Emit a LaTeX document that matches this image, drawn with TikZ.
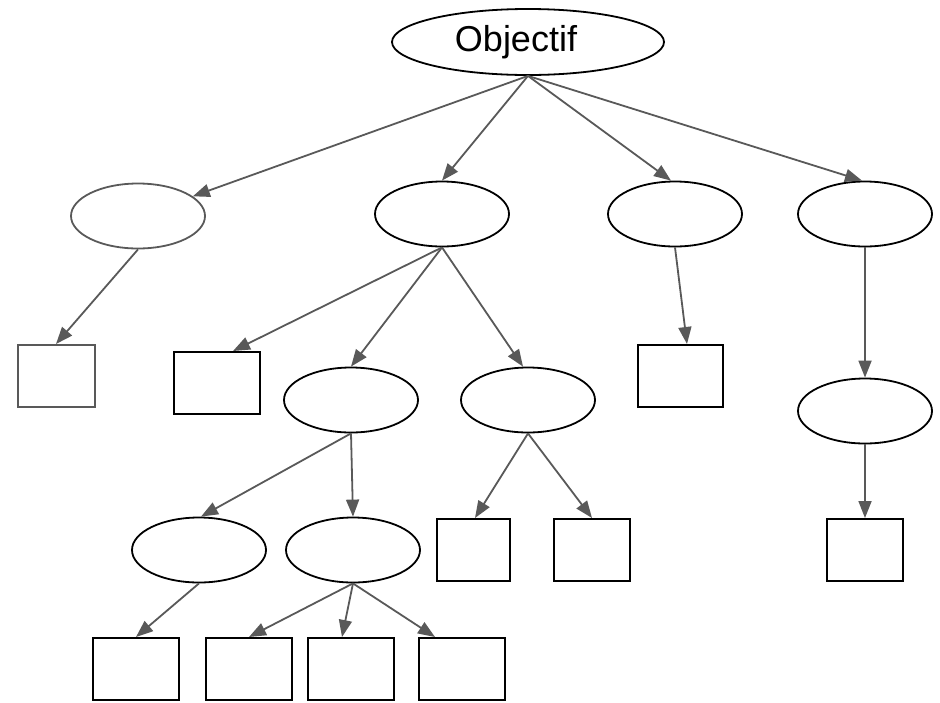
\documentclass[tikz,border=0pt]{standalone}
\usepackage{fontspec}
\setmainfont{Liberation Sans}
\usetikzlibrary{shapes.geometric,arrows.meta}
\definecolor{conn}{HTML}{595959}
\tikzset{
  ell/.style={draw=black, line width=1.8pt, ellipse, inner sep=0pt, minimum width=134pt, minimum height=65pt},
  gell/.style={ell, draw=conn},
  box/.style={draw=black, line width=2pt, rectangle, inner sep=0pt, minimum height=62pt},
  gbox/.style={box, draw=conn},
  link/.style={draw=conn, line width=1.8pt, -{Triangle[length=17pt,width=13pt]}},
}
\begin{document}
\begin{tikzpicture}[x=1pt,y=-1pt]
\useasboundingbox (0,0) rectangle (940,702);
% ellipses
\node[ell, minimum width=272pt, minimum height=66pt, font=\fontsize{36}{40}\selectfont] (obj) at (528,42) {Objectif\hspace*{24pt}};
\node[gell] (e1) at (138,216) {};
\node[ell] (e2) at (442,214) {};
\node[ell] (e3) at (675,214) {};
\node[ell] (e4) at (865,214) {};
\node[ell] (e5) at (351,400) {};
\node[ell] (e6) at (528,400) {};
\node[ell] (e7) at (865,411) {};
\node[ell] (e8) at (199,550) {};
\node[ell] (e9) at (353,550) {};
% boxes
\node[gbox, minimum width=77pt] (r1) at (56,376) {};
\node[box, minimum width=86pt] (r2) at (217,383) {};
\node[box, minimum width=85pt] (r3) at (680,376) {};
\node[box, minimum width=73pt] (r4) at (473,550) {};
\node[box, minimum width=76pt] (r5) at (592,550) {};
\node[box, minimum width=76pt] (r6) at (865,550) {};
\node[box, minimum width=86pt] (r7) at (136,669) {};
\node[box, minimum width=86pt] (r8) at (249,669) {};
\node[box, minimum width=86pt] (r9) at (351,669) {};
\node[box, minimum width=86pt] (r10) at (462,669) {};
% connectors
\draw[link] (obj.south) -- (e1);
\draw[link] (obj.south) -- (e2.north);
\draw[link] (obj.south) -- ([xshift=-4pt]e3.north);
\draw[link] (obj.south) -- ([xshift=-3pt]e4.north);
\draw[link] (e1.south) -- (r1.north);
\draw[link] (e2.south) -- ([xshift=16pt]r2.north);
\draw[link] (e2.south) -- (e5.north);
\draw[link] (e2.south) -- ([xshift=-5pt]e6.north);
\draw[link] (e3.south) -- ([xshift=7pt]r3.north);
\draw[link] (e4.south) -- (e7.north);
\draw[link] (e7.south) -- (r6.north);
\draw[link] (e5.south) -- ([xshift=2pt]e8.north);
\draw[link] (e5.south) -- (e9.north);
\draw[link] (e6.south) -- ([xshift=2pt]r4.north);
\draw[link] (e6.south) -- (r5.north);
\draw[link] (e8.south) -- (r7.north);
\draw[link] (e9.south) -- (r8.north);
\draw[link] (e9.south) -- ([xshift=-9pt]r9.north);
\draw[link] (e9.south) -- ([xshift=-27pt]r10.north);
\end{tikzpicture}
\end{document}
